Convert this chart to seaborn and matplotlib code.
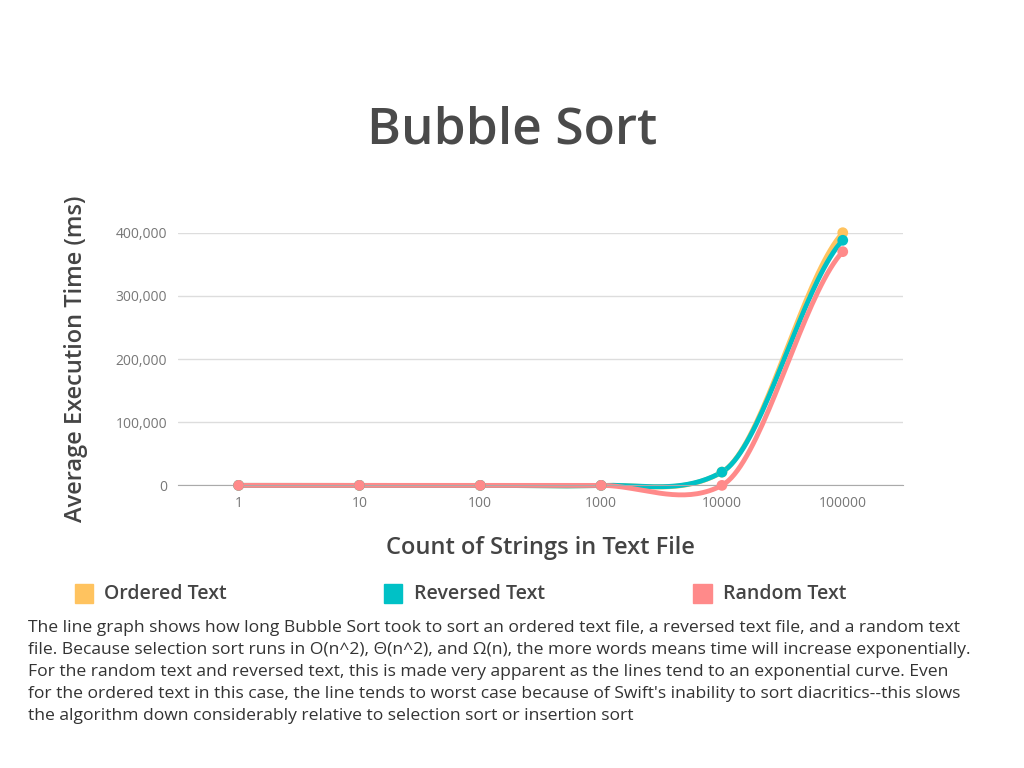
import numpy as np
import pandas as pd
import seaborn as sns
import matplotlib.pyplot as plt

counts = ['1', '10', '100', '1000', '10000', '100000']
ordered = [0, 0, 0, 0, 21000, 400000]
reversed_ = [0, 0, 0, 0, 21000, 388000]
random_ = [0, 0, 0, 0, 0, 370000]
series = {'Ordered Text': ordered, 'Reversed Text': reversed_, 'Random Text': random_}
colors = {'Ordered Text': '#FFC35F', 'Reversed Text': '#00C1C6', 'Random Text': '#FF8A8A'}

caption = ("The line graph shows how long Bubble Sort took to sort an ordered text file, a reversed text file, and a random text\n"
           "file. Because selection sort runs in O(n^2), \u0398(n^2), and \u03a9(n), the more words means time will increase exponentially.\n"
           "For the random text and reversed text, this is made very apparent as the lines tend to an exponential curve. Even\n"
           "for the ordered text in this case, the line tends to worst case because of Swift's inability to sort diacritics--this slows\n"
           "the algorithm down considerably relative to selection sort or insertion sort")


def smooth(y, n=40, tension=0.55):
    # cardinal spline through the points, like the original chart tool
    y = np.asarray(y, float)
    x = np.arange(len(y))
    m = np.gradient(y) * tension
    xs, ys = [], []
    for i in range(len(y) - 1):
        t = np.linspace(0, 1, n)
        h00 = 2*t**3 - 3*t**2 + 1
        h10 = t**3 - 2*t**2 + t
        h01 = -2*t**3 + 3*t**2
        h11 = t**3 - t**2
        xs.append(x[i] + t)
        ys.append(h00*y[i] + h10*m[i] + h01*y[i+1] + h11*m[i+1])
    return np.concatenate(xs), np.concatenate(ys)


sns.set_style('white')
plt.rcParams['font.family'] = ['Open Sans', 'DejaVu Sans']
fig = plt.figure(figsize=(10.24, 7.68), dpi=100)
ax = fig.add_axes([0.174, 0.368, 0.708, 0.329])

rows = []
for name, vals in series.items():
    xs, ys = smooth(vals)
    rows.append(pd.DataFrame({'x': xs, 'y': ys, 's': name}))
curves = pd.concat(rows)
pts = pd.concat([pd.DataFrame({'x': range(len(counts)), 'y': v, 's': k}) for k, v in series.items()])

sns.lineplot(data=curves, x='x', y='y', hue='s', palette=colors, linewidth=3.5, ax=ax, legend=False, clip_on=False)
sns.scatterplot(data=pts, x='x', y='y', hue='s', palette=colors, s=60, edgecolor='none', ax=ax, legend=False, clip_on=False, zorder=5)

ax.set_xlim(-0.5, 5.5)
ax.set_ylim(0, 400000)
ax.set_xticks(range(len(counts)))
ax.set_xticklabels(counts)
ax.set_yticks([0, 100000, 200000, 300000, 400000])
ax.set_yticklabels(['0', '100,000', '200,000', '300,000', '400,000'])
ax.tick_params(colors='#777777', labelsize=10, length=0, pad=8)
ax.yaxis.grid(True, color='#dddddd', linewidth=1)
for s in ['top', 'right', 'left']:
    ax.spines[s].set_visible(False)
ax.spines['bottom'].set_color('#aaaaaa')
ax.set_xlabel('Count of Strings in Text File', fontsize=17, color='#444444', labelpad=18, fontweight='semibold')
ax.set_ylabel('Average Execution Time (ms)', fontsize=17, color='#444444', labelpad=20, fontweight='semibold')

fig.text(0.5, 0.83, 'Bubble Sort', ha='center', va='center', fontsize=37, color='#4a4a4a', fontweight='semibold')

for xpos, name in zip([0.073, 0.375, 0.677], series):
    fig.patches.append(plt.Rectangle((xpos, 0.215), 0.018, 0.024, transform=fig.transFigure,
                                     color=colors[name], figure=fig))
    fig.text(xpos + 0.029, 0.227, name, va='center', fontsize=14, color='#444444', fontweight='semibold')

fig.text(0.027, 0.193, caption, va='top', ha='left', fontsize=12.6, color='#333333', linespacing=1.5)

fig.savefig('out.png', dpi=100, facecolor='white')
